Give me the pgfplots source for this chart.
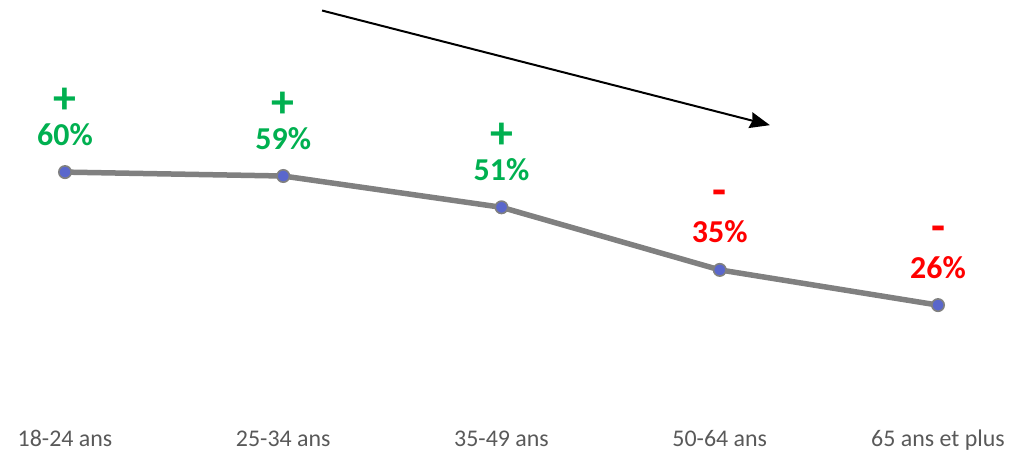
\documentclass[border=0pt]{standalone}
\usepackage{pgfplots}
\pgfplotsset{compat=1.18}
\usepackage{fontspec}
\setmainfont{Carlito}
\usetikzlibrary{arrows.meta}
\definecolor{lgrey}{HTML}{808080}
\definecolor{tickgrey}{HTML}{595959}
\definecolor{markblue}{HTML}{5A67CC}
\definecolor{mygreen}{HTML}{00B050}
\definecolor{myred}{HTML}{FF0000}
\begin{document}
\begin{tikzpicture}
\begin{axis}[
  scale only axis, width=1015bp, height=451bp,
  xmin=-0.2978, xmax=4.3528, ymin=-11.32, ymax=103.97,
  axis line style={draw=none},
  ytick=\empty,
  xtick={0,1,2,3,4},
  xticklabels={18-24 ans,25-34 ans,35-49 ans,50-64 ans,65 ans et plus},
  major tick length=0pt,
  xticklabel style={font=\fontsize{24}{28}\selectfont, text=tickgrey, anchor=base, yshift=4.5bp},
  /pgf/number format/assume math mode=true,
  clip=false,
]
\path (rel axis cs:0,0) rectangle (rel axis cs:1,1);
\addplot[color=lgrey, line width=5.5bp, mark=*, mark size=6.2bp,
  mark options={fill=markblue, draw=lgrey, line width=1.6bp}]
  coordinates {(0,60) (1,59) (2,51) (3,35) (4,26)};
% percent labels
\addplot[draw=none, mark=none, point meta=y,
  nodes near coords={\pgfmathprintnumber{\pgfplotspointmeta}\%},
  every node near coord/.append style={anchor=base, yshift=27bp, text=mygreen, font=\bfseries\fontsize{32}{36}\selectfont}]
  coordinates {(0,60) (1,59) (2,51)};
\addplot[draw=none, mark=none, point meta=y,
  nodes near coords={\pgfmathprintnumber{\pgfplotspointmeta}\%},
  every node near coord/.append style={anchor=base, yshift=27bp, text=myred, font=\bfseries\fontsize{32}{36}\selectfont}]
  coordinates {(3,35) (4,26)};
% signs
\addplot[draw=none, mark=none, point meta=y,
  nodes near coords={+},
  every node near coord/.append style={anchor=base, yshift=59bp, text=mygreen, font=\bfseries\fontsize{46}{50}\selectfont}]
  coordinates {(0,60) (1,59) (2,51)};
\addplot[draw=none, mark=none, point meta=y,
  nodes near coords={-},
  every node near coord/.append style={anchor=base, yshift=64bp, text=myred, font=\bfseries\fontsize{46}{50}\selectfont}]
  coordinates {(3,35) (4,26)};
% trend arrow
\draw[black, line width=2bp, -{Stealth[length=20bp, width=16bp, inset=2bp]}]
  (axis cs:1.178,101.3) -- (axis cs:3.230,72.0);
\end{axis}
\end{tikzpicture}
\end{document}
